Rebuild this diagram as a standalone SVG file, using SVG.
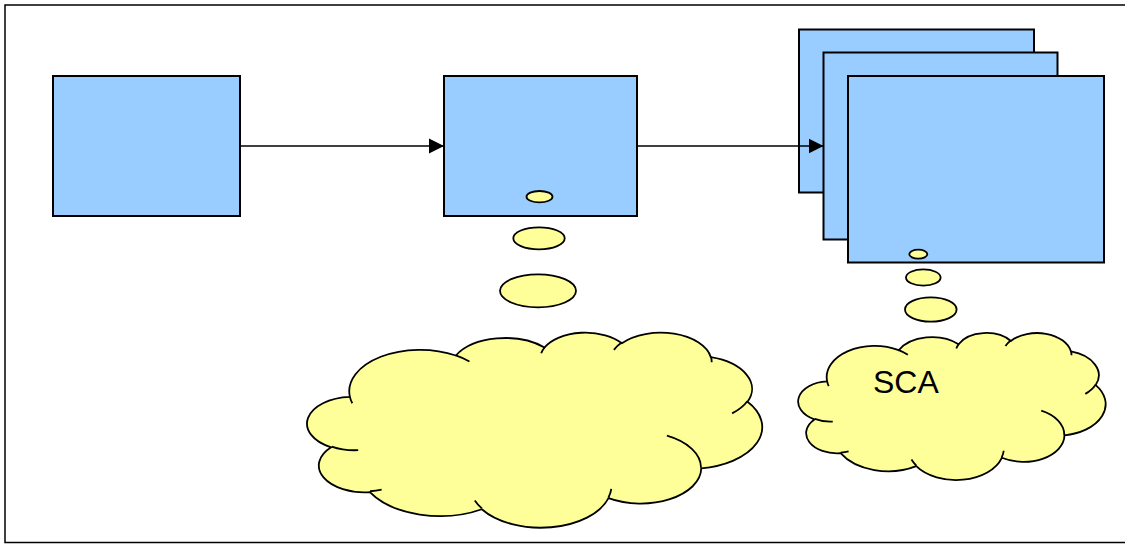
<svg xmlns="http://www.w3.org/2000/svg" xmlns:xlink="http://www.w3.org/1999/xlink" width="1125" height="544" viewBox="0 0 1125 544">
  <style>
    .frame { fill: #ffffff; stroke: #000000; stroke-width: 1.5; }
    .box { fill: #99CCFF; stroke: #000000; stroke-width: 2; }
    .bubble { fill: #FFFF99; stroke: #000000; stroke-width: 1.8; }
    .cloud { fill: #FFFF99; stroke: #000000; stroke-width: 1.8; vector-effect: non-scaling-stroke; }
    .tick { fill: none; stroke: #000000; stroke-width: 1.8; vector-effect: non-scaling-stroke; }
    .conn { fill: none; stroke: #000000; stroke-width: 1.5; }
    .label { font-family: "Liberation Sans", Arial, sans-serif; font-size: 32px; fill: #000000; }
  </style>
  <defs>
    <marker id="arrow" markerUnits="userSpaceOnUse" markerWidth="16" markerHeight="16" viewBox="0 0 16 16" refX="15" refY="8" orient="auto">
      <path d="M0,0.5 L15,8 L0,15.5 Z" fill="#000000"/>
    </marker>
    <g id="cloudShape">
      <path class="cloud" d="M3900 14370 A6753 9190 0 0 1 14005 5202 A5333 7267 0 0 1 22457 3434 A4365 5945 0 0 1 29835 2483 A4857 6595 0 0 1 38320 5578 A5333 7273 0 0 1 41821 15462 A6775 9220 0 0 1 37407 30205 A5785 7867 0 0 1 28558 36815 A6752 9215 0 0 1 16483 39268 A7720 10543 0 0 1 5806 35474 A4360 5918 0 0 1 2113 25553 A4345 5945 0 0 1 3900 14370 Z"/>
      <path class="tick" d="M4693 26177 A4345 5945 0 0 1 2160 25380 M6928 34899 A4360 5918 0 0 1 5819 35281 M16478 39090 A6752 9215 0 0 1 15809 37347 M28827 34751 A6752 9215 0 0 1 28560 36660 M34129 22954 A5785 7867 0 0 1 37381 30090 M41798 15354 A5333 7273 0 0 1 40350 18030 M38324 5426 A4857 6595 0 0 1 38400 6690 M29078 3952 A4857 6595 0 0 1 29820 2340 M22141 4720 A4365 5945 0 0 1 22500 3331 M14000 5192 A6753 9190 0 0 1 15301 6542 M4127 15789 A6753 9190 0 0 1 3900 14371"/>
    </g>
  </defs>

  <rect class="frame" x="5" y="5" width="1124" height="537.5"/>

  <g id="node-box1">
    <rect class="box" x="53" y="76" width="187" height="140"/>
  </g>

  <g id="node-box2">
    <rect class="box" x="444" y="76" width="193" height="140"/>
  </g>

  <g id="node-stack">
    <rect class="box" x="799" y="29.5" width="235" height="163"/>
    <rect class="box" x="823.5" y="52.5" width="234" height="187"/>
    <rect class="box" x="848" y="76" width="256" height="186.5"/>
  </g>

  <g id="node-cloud1">
    <use xlink:href="#cloudShape" href="#cloudShape" transform="translate(309,332) scale(0.0104861,0.0045139)"/>
    <ellipse class="bubble" cx="539.5" cy="196.7" rx="13" ry="5.7"/>
    <ellipse class="bubble" cx="539" cy="238.3" rx="25.7" ry="11"/>
    <ellipse class="bubble" cx="538" cy="290.8" rx="38" ry="16.5"/>
  </g>

  <g id="node-cloud2">
    <use xlink:href="#cloudShape" href="#cloudShape" transform="translate(799.5,332.5) scale(0.0070833,0.0034028)"/>
    <ellipse class="bubble" cx="918.3" cy="254.2" rx="9" ry="4.5"/>
    <ellipse class="bubble" cx="923.3" cy="277.5" rx="17.3" ry="8.2"/>
    <ellipse class="bubble" cx="930.8" cy="309.5" rx="25.8" ry="12.2"/>
    <text class="label" x="873" y="393.3">SCA</text>
  </g>

  <g id="connectors">
    <line class="conn" x1="241" y1="146" x2="444" y2="146" marker-end="url(#arrow)"/>
    <line class="conn" x1="638" y1="146" x2="823.5" y2="146" marker-end="url(#arrow)"/>
  </g>
</svg>
